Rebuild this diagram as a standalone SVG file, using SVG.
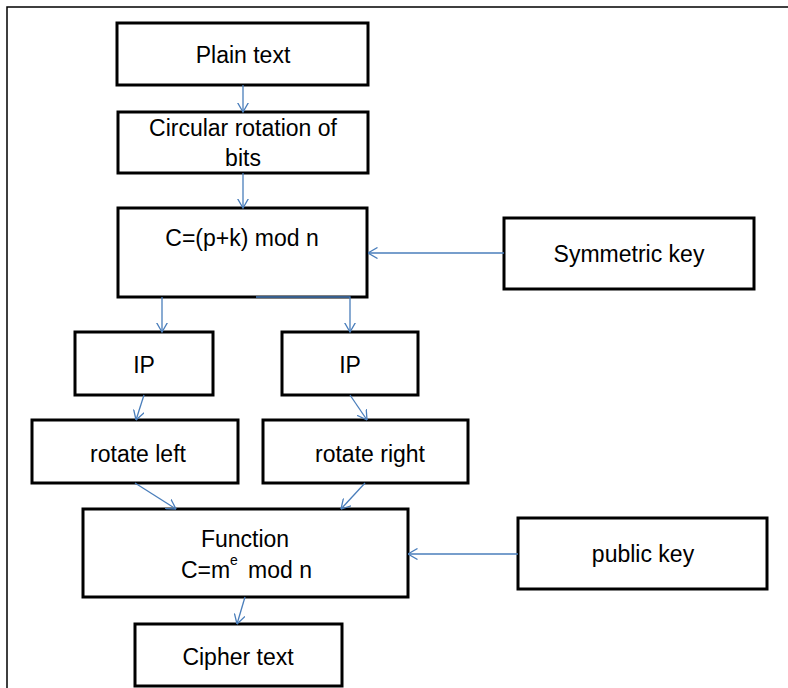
<svg xmlns="http://www.w3.org/2000/svg" width="788" height="688" viewBox="0 0 788 688">
<style>
.box{fill:#fff;stroke:#000;stroke-width:3}
.t{font-family:"Liberation Sans",Arial,sans-serif;font-size:23px;fill:#000;text-anchor:middle}
.c{fill:none;stroke:#4a7ebb;stroke-width:1.3}
</style>
<defs>
<marker id="ah" viewBox="0 0 10 12" markerWidth="10" markerHeight="12" refX="9.5" refY="6" orient="auto" markerUnits="userSpaceOnUse">
<path d="M0,0.5 L9.5,6 L0,11.5" fill="none" stroke="#4a7ebb" stroke-width="1.3"/>
</marker>
</defs>
<rect width="788" height="688" fill="#fff"/>
<path d="M7,688 V7 H788" fill="none" stroke="#000" stroke-width="1.5"/>

<g id="plain">
<rect class="box" x="117" y="23" width="251" height="62"/>
<text class="t" x="243" y="63">Plain text</text>
</g>
<g id="circular">
<rect class="box" x="118" y="112" width="250" height="61"/>
<text class="t" x="243" y="136">Circular rotation of</text>
<text class="t" x="243" y="166">bits</text>
</g>
<g id="cmod">
<rect class="box" x="118" y="208" width="249" height="89"/>
<text class="t" x="242" y="246">C=(p+k) mod n</text>
</g>
<g id="symkey">
<rect class="box" x="504" y="218" width="250" height="71"/>
<text class="t" x="629" y="262">Symmetric key</text>
</g>
<g id="ipleft">
<rect class="box" x="75" y="332" width="138" height="63"/>
<text class="t" x="144" y="373">IP</text>
</g>
<g id="ipright">
<rect class="box" x="282" y="332" width="136" height="63"/>
<text class="t" x="350" y="373">IP</text>
</g>
<g id="rotleft">
<rect class="box" x="32" y="420" width="206" height="63"/>
<text class="t" x="138" y="462">rotate left</text>
</g>
<g id="rotright">
<rect class="box" x="263" y="420" width="205" height="63"/>
<text class="t" x="370" y="462">rotate right</text>
</g>
<g id="function">
<rect class="box" x="83" y="509" width="325" height="88"/>
<text class="t" x="245" y="547">Function</text>
<text style="font-family:'Liberation Sans',Arial,sans-serif;font-size:23px;fill:#000"><tspan x="181" y="578">C=m</tspan><tspan x="230" y="565" font-size="14">e</tspan><tspan x="248" y="578">mod n</tspan></text>
</g>
<g id="pubkey">
<rect class="box" x="518" y="518" width="249" height="71"/>
<text class="t" x="643" y="562">public key</text>
</g>
<g id="cipher">
<rect class="box" x="135" y="624" width="207" height="62"/>
<text class="t" x="238" y="665">Cipher text</text>
</g>

<g id="connectors">
<path class="c" d="M243,85 V112" marker-end="url(#ah)"/>
<path class="c" d="M243,173 V208" marker-end="url(#ah)"/>
<path class="c" d="M504,253 H368" marker-end="url(#ah)"/>
<path class="c" d="M162,297 V332" marker-end="url(#ah)"/>
<path class="c" d="M256,297 H350 V332" marker-end="url(#ah)"/>
<path class="c" d="M144,395 L136,420" marker-end="url(#ah)"/>
<path class="c" d="M350,395 L367,420" marker-end="url(#ah)"/>
<path class="c" d="M135,483 L176,509" marker-end="url(#ah)"/>
<path class="c" d="M365,483 L341,509" marker-end="url(#ah)"/>
<path class="c" d="M518,554 H408" marker-end="url(#ah)"/>
<path class="c" d="M245,597 L237,624" marker-end="url(#ah)"/>
</g>
</svg>
